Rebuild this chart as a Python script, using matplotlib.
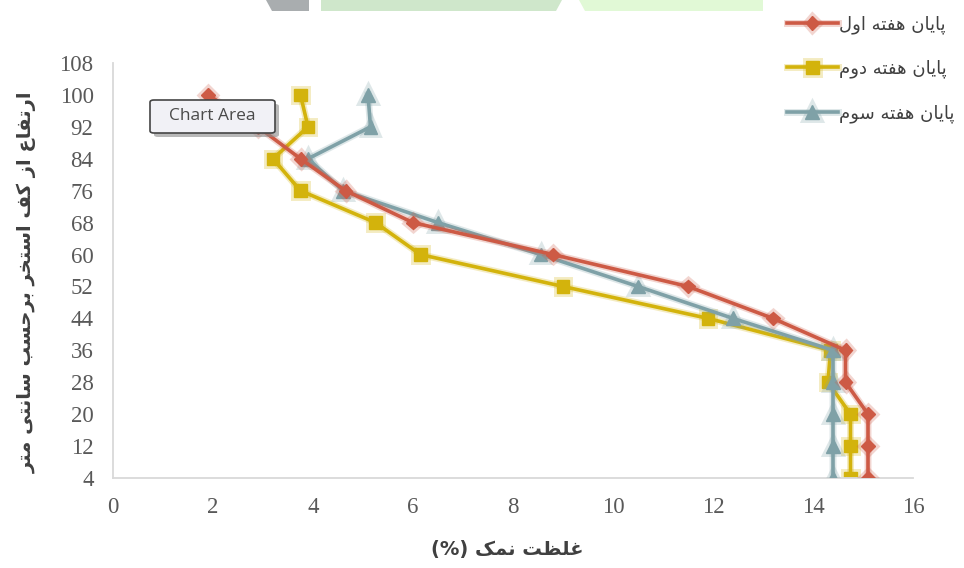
import numpy as np
import matplotlib
matplotlib.use("Agg")
import matplotlib.pyplot as plt
from matplotlib.patches import Polygon, FancyBboxPatch
import matplotlib.patheffects as pe

# Salt concentration (%) at each height above the pond floor (cm)
heights = [100, 92, 84, 76, 68, 60, 52, 44, 36, 28, 20, 12, 4]
week1 = [1.9, 2.9, 3.75, 4.65, 6.0, 8.8, 11.5, 13.2, 14.65, 14.65, 15.1, 15.1, 15.1]
week2 = [3.75, 3.9, 3.2, 3.75, 5.25, 6.15, 9.0, 11.9, 14.35, 14.3, 14.75, 14.75, 14.75]
week3 = [5.1, 5.15, 3.9, 4.6, 6.5, 8.55, 10.5, 12.4, 14.4, 14.4, 14.4, 14.4, 14.4]

series_names = ["پایان هفته اول", "پایان هفته دوم", "پایان هفته سوم"]
x_title = "غلظت نمک (%)"
y_title = "ارتفاع از کف استخر برحسب سانتی متر"
x_ticks = list(range(0, 17, 2))
y_ticks = list(range(4, 109, 8))

# --- minimal Persian shaping (matplotlib has no bidi / joining support) ---
# isolated, final, initial, medial
FORMS = {
    "ا": ("\uFE8D", "\uFE8E"), "د": ("\uFEA9", "\uFEAA"), "ر": ("\uFEAD", "\uFEAE"),
    "ز": ("\uFEAF", "\uFEB0"), "و": ("\uFEED", "\uFEEE"),
    "ب": ("\uFE8F", "\uFE90", "\uFE91", "\uFE92"),
    "پ": ("\uFB56", "\uFB57", "\uFB58", "\uFB59"),
    "ت": ("\uFE95", "\uFE96", "\uFE97", "\uFE98"),
    "ح": ("\uFEA1", "\uFEA2", "\uFEA3", "\uFEA4"),
    "خ": ("\uFEA5", "\uFEA6", "\uFEA7", "\uFEA8"),
    "س": ("\uFEB1", "\uFEB2", "\uFEB3", "\uFEB4"),
    "ظ": ("\uFEC5", "\uFEC6", "\uFEC7", "\uFEC8"),
    "ع": ("\uFEC9", "\uFECA", "\uFECB", "\uFECC"),
    "غ": ("\uFECD", "\uFECE", "\uFECF", "\uFED0"),
    "ف": ("\uFED1", "\uFED2", "\uFED3", "\uFED4"),
    "ک": ("\uFB8E", "\uFB8F", "\uFB90", "\uFB91"),
    "ل": ("\uFEDD", "\uFEDE", "\uFEDF", "\uFEE0"),
    "م": ("\uFEE1", "\uFEE2", "\uFEE3", "\uFEE4"),
    "ن": ("\uFEE5", "\uFEE6", "\uFEE7", "\uFEE8"),
    "ه": ("\uFEE9", "\uFEEA", "\uFEEB", "\uFEEC"),
    "ی": ("\uFBFC", "\uFBFD", "\uFBFE", "\uFBFF"),
}
MIRROR = {"(": ")", ")": "("}


def fa(text):
    out = []
    for i, ch in enumerate(text):
        if ch not in FORMS:
            out.append(ch)
            continue
        prev = text[i - 1] if i > 0 else ""
        nxt = text[i + 1] if i + 1 < len(text) else ""
        f = FORMS[ch]
        join_prev = prev in FORMS and len(FORMS[prev]) == 4
        join_next = len(f) == 4 and nxt in FORMS
        if join_prev and join_next:
            out.append(f[3])
        elif join_prev:
            out.append(f[1])
        elif join_next:
            out.append(f[2])
        else:
            out.append(f[0])
    return "".join(MIRROR.get(c, c) for c in reversed(out))


W, H = 964, 568
fig = plt.figure(figsize=(W / 100, H / 100), dpi=100)
ax = fig.add_axes([113 / W, 1 - 478 / H, 800 / W, 415 / H])

# banner strip along the top edge
strip = [
    ([(266, 0), (309, 0), (309, 11), (272, 11)], "#a9adaf"),
    ([(321, 0), (562, 0), (556, 11), (321, 11)], "#cfe7cb"),
    ([(579, 0), (763, 0), (763, 11), (585, 11)], "#e1f9d6"),
]
for pts, col in strip:
    fig.patches.append(Polygon([(x / W, 1 - y / H) for x, y in pts], closed=True,
                               transform=fig.transFigure, facecolor=col,
                               edgecolor="none"))

styles = [
    (week1, "#cd5a45", "D", 7, 4),
    (week2, "#d3b30c", "s", 9, 2),
    (week3, "#7fa1a7", "^", 10, 3),
]
for (vals, col, mk, ms, z), name in zip(styles, series_names):
    ax.plot(vals, heights, color=col, lw=2.6, marker=mk, ms=ms, mec=col, mfc=col,
            zorder=z, label=fa(name),
            path_effects=[pe.Stroke(linewidth=5, foreground=col, alpha=0.25), pe.Normal()])

ax.set_xlim(0, 16)
ax.set_ylim(4, 108)
ax.set_xticks(x_ticks)
ax.set_yticks(y_ticks)
for s in ["top", "right"]:
    ax.spines[s].set_visible(False)
for s in ["left", "bottom"]:
    ax.spines[s].set_color("#d9d9d9")
    ax.spines[s].set_linewidth(1.3)
ax.tick_params(length=0, pad=14, labelsize=16.5, labelcolor="#595959")
for lab in ax.get_xticklabels() + ax.get_yticklabels():
    lab.set_family("Liberation Serif")

ax.set_xlabel(fa(x_title), fontsize=14, fontweight="bold", color="#404040")
ax.set_ylabel(fa(y_title), fontsize=14, fontweight="bold", color="#404040")
ax.xaxis.set_label_coords(0.4925, -0.15)
ax.yaxis.set_label_coords(-0.095, 0.472)

fig.legend(loc="upper right", bbox_to_anchor=(963 / W, 1 - 6 / H), frameon=False,
           fontsize=13, handlelength=2.8, handletextpad=0.05, labelspacing=1.45,
           borderpad=0, labelcolor="#404040")

# "Chart Area" hover tip with a drop shadow
bx, by, bw, bh = 150, 100, 125, 33
fig.patches.append(FancyBboxPatch(((bx + 4) / W, 1 - (by + bh + 4) / H), bw / W, bh / H,
                                  boxstyle="round,pad=0,rounding_size=0.004",
                                  transform=fig.transFigure, facecolor="#8a8a8a",
                                  edgecolor="none", alpha=0.6, zorder=10))
fig.patches.append(FancyBboxPatch((bx / W, 1 - (by + bh) / H), bw / W, bh / H,
                                  boxstyle="round,pad=0,rounding_size=0.004",
                                  transform=fig.transFigure, facecolor="#f1f1f6",
                                  edgecolor="#454545", lw=1.2, zorder=11))
fig.text((bx + bw / 2) / W, 1 - (by + bh / 2) / H, "Chart Area", ha="center", va="center",
         fontsize=12.5, color="#4a4a4a", family="Open Sans", zorder=12)

fig.savefig("out.png", dpi=100)
